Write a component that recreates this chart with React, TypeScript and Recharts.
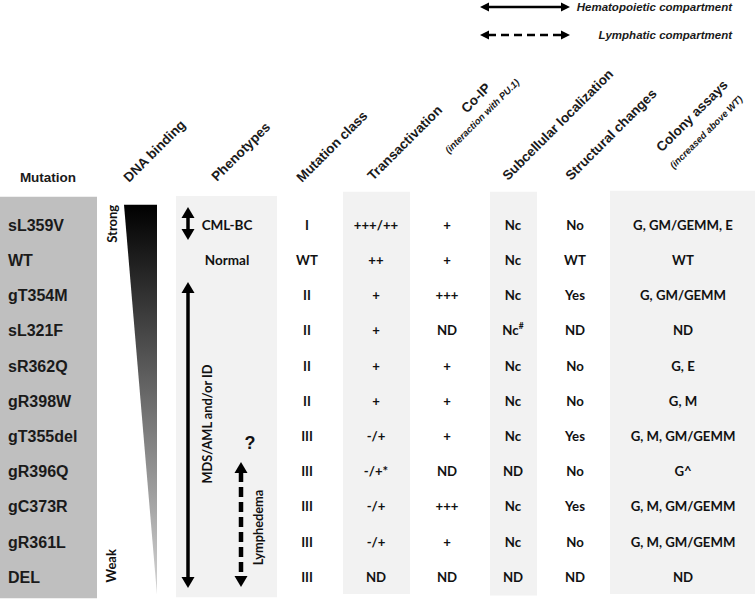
import React from 'react';
import { ScatterChart, Scatter, XAxis, YAxis, ReferenceArea, Legend } from 'recharts';

// rows of the table
const mutations = ['sL359V', 'WT', 'gT354M', 'sL321F', 'sR362Q', 'gR398W', 'gT355del', 'gR396Q', 'gC373R', 'gR361L', 'DEL'];
const mutationClass = ['I', 'WT', 'II', 'II', 'II', 'II', 'III', 'III', 'III', 'III', 'III'];
const transactivation = ['+++/++', '++', '+', '+', '+', '+', '-/+', '-/+*', '-/+', '-/+', 'ND'];
const coIP = ['+', '+', '+++', 'ND', '+', '+', '+', 'ND', '+++', '+', 'ND'];
const subcellular = ['Nc', 'Nc', 'Nc', 'Nc#', 'Nc', 'Nc', 'Nc', 'ND', 'Nc', 'Nc', 'ND'];
const structuralChanges = ['No', 'WT', 'Yes', 'ND', 'No', 'No', 'Yes', 'No', 'Yes', 'No', 'ND'];
const colonyAssays = ['G, GM/GEMM, E', 'WT', 'G, GM/GEMM', 'ND', 'G, E', 'G, M', 'G, M, GM/GEMM', 'G^', 'G, M, GM/GEMM', 'G, M, GM/GEMM', 'ND'];
const phenotypeText = ['CML-BC', 'Normal', '', '', '', '', '?', '', '', '', ''];
const phenotypeSpans = [
  { label: '', from: 0, to: 0, compartment: 'Hematopoietic' },
  { label: 'MDS/AML and/or ID', from: 2, to: 10, compartment: 'Hematopoietic' },
  { label: 'Lymphedema', from: 7, to: 10, compartment: 'Lymphatic' },
];
const dnaBindingEnds = ['Strong', 'Weak'];
const compartments = ['Hematopoietic', 'Lymphatic'];

// column header tick labels
const headerTitles = ['Mutation', 'DNA binding', 'Phenotypes', 'Mutation class', 'Transactivation', 'Co-IP', 'Subcellular localization', 'Structural changes', 'Colony assays'];
const headerSubtitles = ['', '', '', '', '', '(interaction with PU.1)', '', '', '(increased above WT)'];

// ---- layout ----
const SANS = '"Liberation Sans", Arial, sans-serif';
const CAL = 'Lato, "Open Sans", sans-serif';
const INK = '#111';
const COL_X = [48, 140, 227, 307, 376, 447, 513, 575, 683];
const LABEL_X = 8;
const HEADER_POS = [
  { dx: 0, dy: -8 },
  { dx: -11, dy: -7 },
  { dx: -10, dy: -8 },
  { dx: -5, dy: -7 },
  { dx: -3, dy: -9 },
  { dx: 29, dy: -92, sdx: 35, sdy: -74 },
  { dx: -5, dy: -9 },
  { dx: -4, dy: -9 },
  { dx: 9, dy: -74, sdx: 23, sdy: -58 },
];
const ROW_DOMAIN: [number, number] = [-0.99, 10.62];
const BOXES = [
  { x1: 0, x2: 97, y1: -0.8, y2: 10.6, fill: '#bfbfbf' },
  { x1: 176, x2: 277, y1: -0.82, y2: 10.57, fill: '#f2f2f2' },
  { x1: 343, x2: 410, y1: -0.94, y2: 10.48, fill: '#f2f2f2' },
  { x1: 490, x2: 537, y1: -0.94, y2: 10.52, fill: '#f2f2f2' },
  { x1: 610, x2: 755, y1: -0.97, y2: 10.48, fill: '#f2f2f2' },
];
const SPAN_LAYOUT = [
  { x: 188, padTop: 0.51, padBottom: 0.43, labelDx: 0, labelDy: 0 },
  { x: 188, padTop: 0.38, padBottom: 0.31, labelDx: 19, labelDy: -11 },
  { x: 241, padTop: 0.27, padBottom: 0.28, labelDx: 17, labelDy: 3 },
];

const colData = (values: string[], x: number) => values.map((label, row) => ({ x, row, label }));

const CellText = (props: any) => {
  const { cx, cy, payload } = props;
  const label: string = payload?.label ?? '';
  if (!label) return <g />;
  const sup = label.endsWith('#');
  return (
    <text x={cx} y={cy} dy="0.36em" textAnchor="middle" fontFamily={CAL} fontWeight={700} fontSize={13.2} fill={INK}>
      {sup ? (
        <>
          {label.slice(0, -1)}
          <tspan fontSize={8.5} dy={-6}>#</tspan>
        </>
      ) : (
        label
      )}
    </text>
  );
};

const RowLabel = (props: any) => {
  const { cx, cy, payload } = props;
  return (
    <text x={cx} y={cy} dy="0.36em" textAnchor="start" fontFamily={SANS} fontWeight={700} fontSize={16} fill="#1a1a1a">
      {payload?.label}
    </text>
  );
};

const PhenoText = (props: any) => {
  const { cy, payload } = props;
  const label: string = payload?.label ?? '';
  if (!label) return <g />;
  if (label === '?') {
    return (
      <text x={250} y={cy + 6} dy="0.36em" textAnchor="middle" fontFamily={SANS} fontWeight={700} fontSize={18} fill={INK}>
        ?
      </text>
    );
  }
  return (
    <text x={props.cx} y={cy} dy="0.36em" textAnchor="middle" fontFamily={CAL} fontWeight={700} fontSize={13.5} fill={INK}>
      {label}
    </text>
  );
};

const HeaderTick = (props: any) => {
  const { x, y, payload } = props;
  const i = COL_X.indexOf(payload.value);
  if (i < 0) return <g />;
  const p = HEADER_POS[i];
  if (i === 0) {
    return (
      <text x={x + p.dx} y={y + p.dy} textAnchor="middle" fontFamily={SANS} fontWeight={700} fontSize={13.5} fill="#1a1a1a">
        {headerTitles[i]}
      </text>
    );
  }
  if (headerSubtitles[i]) {
    return (
      <g>
        <text transform={`translate(${x + p.dx},${y + p.dy}) rotate(-45)`} textAnchor="middle" dominantBaseline="central" fontFamily={SANS} fontWeight={700} fontSize={13.5} fill="#1a1a1a">
          {headerTitles[i]}
        </text>
        <text transform={`translate(${x + (p.sdx ?? 0)},${y + (p.sdy ?? 0)}) rotate(-45)`} textAnchor="middle" dominantBaseline="central" fontFamily={SANS} fontStyle="italic" fontWeight={700} fontSize={9.5} fill="#1a1a1a">
          {headerSubtitles[i]}
        </text>
      </g>
    );
  }
  return (
    <text transform={`translate(${x + p.dx},${y + p.dy}) rotate(-45)`} textAnchor="start" fontFamily={SANS} fontWeight={700} fontSize={13.5} fill="#1a1a1a">
      {headerTitles[i]}
    </text>
  );
};

const Wedge = (props: any) => {
  const { x, y, width, height } = props;
  return (
    <g>
      <defs>
        <linearGradient id="dnaGrad" x1="0" y1="0" x2="0" y2="1">
          <stop offset="0" stopColor="#000" />
          <stop offset="1" stopColor="#d6d6d6" />
        </linearGradient>
      </defs>
      <polygon points={`${x},${y} ${x + width},${y} ${x + width},${y + height}`} fill="url(#dnaGrad)" />
      <text transform={`translate(${x - 12},${y + 19}) rotate(-90)`} textAnchor="middle" dominantBaseline="central" fontFamily={CAL} fontWeight={700} fontSize={13} fill={INK}>
        {dnaBindingEnds[0]}
      </text>
      <text transform={`translate(${x - 13},${y + height - 29}) rotate(-90)`} textAnchor="middle" dominantBaseline="central" fontFamily={CAL} fontWeight={700} fontSize={13} fill={INK}>
        {dnaBindingEnds[1]}
      </text>
    </g>
  );
};

const makeArrow = (dashed: boolean, label: string, labelDx: number, labelDy: number) => (props: any) => {
  const { x, y, width, height } = props;
  const cx = x + width / 2;
  const top = y;
  const bottom = y + height;
  const hh = 11;
  const hw = 6.5;
  const mid = (top + bottom) / 2;
  return (
    <g>
      <line x1={cx} x2={cx} y1={top + hh - 1} y2={bottom - hh + 1} stroke="#000" strokeWidth={dashed ? 4.5 : 3.5} strokeDasharray={dashed ? '10 5' : undefined} />
      <polygon points={`${cx},${top} ${cx - hw},${top + hh} ${cx + hw},${top + hh}`} fill="#000" />
      <polygon points={`${cx},${bottom} ${cx - hw},${bottom - hh} ${cx + hw},${bottom - hh}`} fill="#000" />
      {label && (
        <text transform={`translate(${cx + labelDx},${mid + labelDy}) rotate(-90)`} textAnchor="middle" dominantBaseline="central" fontFamily={CAL} fontWeight={700} fontSize={12.8} fill={INK}>
          {label}
        </text>
      )}
    </g>
  );
};

const LegendArrow = ({ x1, x2, y, dashed }: { x1: number; x2: number; y: number; dashed: boolean }) => (
  <g>
    <line x1={x1 + 8} x2={x2 - 8} y1={y} y2={y} stroke="#000" strokeWidth={2.5} strokeDasharray={dashed ? '8 5' : undefined} />
    <polygon points={`${x1},${y} ${x1 + 9},${y - 4.5} ${x1 + 9},${y + 4.5}`} fill="#000" />
    <polygon points={`${x2},${y} ${x2 - 9},${y - 4.5} ${x2 - 9},${y + 4.5}`} fill="#000" />
  </g>
);

const CompartmentLegend = () => (
  <svg width={280} height={46}>
    {compartments.map((c, i) => {
      const y = 7 + i * 28;
      return (
        <g key={c}>
          <LegendArrow x1={10} x2={100} y={y} dashed={i === 1} />
          <text x={262} y={y} dy="0.36em" textAnchor="end" fontFamily={SANS} fontStyle="italic" fontWeight={700} fontSize={11.5} fill="#1a1a1a">
            {`${c} compartment`}
          </text>
        </g>
      );
    })}
  </svg>
);

const valueColumns = [
  { values: mutationClass, x: COL_X[3] },
  { values: transactivation, x: COL_X[4] },
  { values: coIP, x: COL_X[5] },
  { values: subcellular, x: COL_X[6] },
  { values: structuralChanges, x: COL_X[7] },
  { values: colonyAssays, x: COL_X[8] },
];

export default function App() {
  return (
    <div style={{ position: 'absolute', left: 0, top: 0, width: 756, height: 601, background: '#fff' }}>
      <ScatterChart width={756} height={601} margin={{ top: 0, right: 0, bottom: 2, left: 0 }}>
        <XAxis
          type="number"
          dataKey="x"
          orientation="top"
          domain={[0, 756]}
          allowDataOverflow
          ticks={COL_X}
          interval={0}
          height={190}
          axisLine={false}
          tickLine={false}
          tickSize={0}
          tickMargin={0}
          tick={<HeaderTick />}
        />
        <YAxis type="number" dataKey="row" domain={ROW_DOMAIN} allowDataOverflow reversed hide />
        {BOXES.map((b, i) => (
          <ReferenceArea key={`box${i}`} x1={b.x1} x2={b.x2} y1={b.y1} y2={b.y2} fill={b.fill} fillOpacity={1} stroke="none" ifOverflow="visible" />
        ))}
        <ReferenceArea x1={124} x2={157} y1={-0.57} y2={10.5} ifOverflow="visible" shape={Wedge} />
        {phenotypeSpans.map((s, i) => {
          const l = SPAN_LAYOUT[i];
          return (
            <ReferenceArea
              key={`span${i}`}
              x1={l.x - 6.5}
              x2={l.x + 6.5}
              y1={s.from - l.padTop}
              y2={s.to + l.padBottom}
              ifOverflow="visible"
              shape={makeArrow(s.compartment === 'Lymphatic', s.label, l.labelDx, l.labelDy)}
            />
          );
        })}
        <Scatter data={colData(mutations, LABEL_X)} shape={RowLabel} isAnimationActive={false} />
        <Scatter data={colData(phenotypeText, COL_X[2])} shape={PhenoText} isAnimationActive={false} />
        {valueColumns.map((c, i) => (
          <Scatter key={`col${i}`} data={colData(c.values, c.x)} shape={CellText} isAnimationActive={false} />
        ))}
        <Legend
          layout="horizontal"
          verticalAlign="middle"
          align="center"
          wrapperStyle={{ top: 0, left: 470, width: 280, height: 46 }}
          content={() => <CompartmentLegend />}
        />
      </ScatterChart>
    </div>
  );
}
